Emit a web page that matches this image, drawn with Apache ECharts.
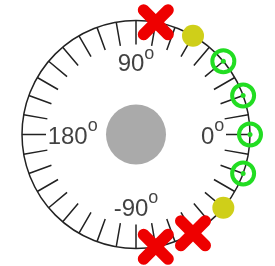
<!DOCTYPE html>
<html>
<head>
<meta charset="utf-8">
<script src="https://cdn.jsdelivr.net/npm/echarts@6/dist/echarts.min.js"></script>
<style>
    html,body{margin:0;padding:0;background:#fff}
    #main{width:275px;height:266px}
</style>
</head>
<body>
<div id="main"></div>
<script>
    // angles in degrees, 0 = right, counter clockwise
    let tickLabels = ['90', '180', '0', '-90']
    let labelAngles = [90, 180, 0, -90]
    let crossAngles = [80, -60, -80]
    let dotAngles = [60, -40]
    let ringAngles = [40, 20, 0, -20]
    let hub = [[0, 0]]

    let rimR = 1
    let labelR = 0.775
    let font = 'Liberation Sans, Arial, sans-serif'
    // fat x with round ends
    let crossPath = 'path://M2.5,0 L5,2.5 L7.5,0 A1.77,1.77 0 0 1 10,2.5 L7.5,5 L10,7.5 A1.77,1.77 0 0 1 7.5,10 L5,7.5 L2.5,10 A1.77,1.77 0 0 1 0,7.5 L2.5,5 L0,2.5 A1.77,1.77 0 0 1 2.5,0 Z'

    function onRim(list) {
        return list.map(function (a) { return [rimR, a] })
    }

    // labels sit inside the dial, outer edge on labelR
    function sideOf(a) {
        let c = Math.cos(a * Math.PI / 180)
        let s = Math.sin(a * Math.PI / 180)
        if (c > 0.3) return 'left'
        if (c < -0.3) return 'right'
        return s > 0 ? 'bottom' : 'top'
    }

    let labelData = labelAngles.map(function (a, i) {
        return {
            value: [labelR, a],
            name: tickLabels[i],
            label: {position: sideOf(a)}
        }
    })

    var myChart = echarts.init(document.getElementById('main'))

    var option = {
        backgroundColor: '#fff',
        animation: false,
        polar: {
            center: [136, 134.5],
            radius: 114
        },
        angleAxis: {
            type: 'value',
            min: -180,
            max: 180,
            interval: 10,
            startAngle: 180,
            clockwise: false,
            axisLine: {show: true, lineStyle: {color: '#222', width: 1.5}},
            axisTick: {show: true, inside: true, length: 24, lineStyle: {color: '#222', width: 1.5}},
            axisLabel: {show: false},
            splitLine: {show: false}
        },
        radiusAxis: {
            type: 'value',
            min: 0,
            max: 1,
            axisLine: {show: false},
            axisTick: {show: false},
            axisLabel: {show: false},
            splitLine: {show: false}
        },
        series: [{
            type: 'scatter',
            coordinateSystem: 'polar',
            data: hub,
            symbolSize: 60,
            itemStyle: {color: '#aaaaaa', opacity: 1}
        }, {
            type: 'scatter',
            coordinateSystem: 'polar',
            data: labelData,
            symbolSize: 0,
            label: {
                show: true,
                distance: 0,
                offset: [0, -1.5],
                formatter: function (p) { return '{d|' + p.name + '}{o|o}' },
                rich: {
                    // digits pushed down so the small o reads as a degree mark
                    d: {fontSize: 24, fontFamily: font, color: '#111', padding: [8, 0, 0, 0]},
                    o: {fontSize: 18, fontFamily: font, color: '#111', verticalAlign: 'top'}
                }
            }
        }, {
            type: 'scatter',
            coordinateSystem: 'polar',
            data: onRim(ringAngles),
            symbol: 'circle',
            symbolSize: 22,
            itemStyle: {color: 'rgba(0,0,0,0)', borderColor: '#22dd22', borderWidth: 4, opacity: 1},
            z: 3
        }, {
            type: 'scatter',
            coordinateSystem: 'polar',
            data: onRim(ringAngles),
            symbolSize: 5,
            itemStyle: {color: '#22dd22', opacity: 1},
            z: 3
        }, {
            type: 'scatter',
            coordinateSystem: 'polar',
            data: onRim(dotAngles),
            symbolSize: 22,
            itemStyle: {color: '#cfcf19', opacity: 1},
            z: 3
        }, {
            type: 'scatter',
            coordinateSystem: 'polar',
            data: onRim(crossAngles),
            symbol: crossPath,
            symbolSize: 36,
            itemStyle: {color: '#ee0000', opacity: 1},
            z: 4
        }]
    }

    myChart.setOption(option)
</script>
</body>
</html>
